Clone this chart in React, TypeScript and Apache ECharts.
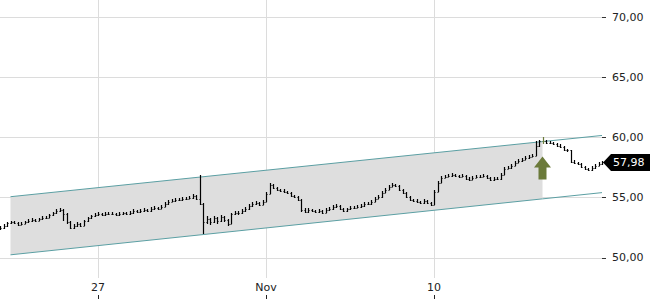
import React, { useEffect, useRef } from 'react';
import * as echarts from 'echarts';

// x-axis tick positions (bar index) and their labels
const xTickIndex = [28, 76, 124];
const xTickLabels = ['27', 'Nov', '10'];
// y-axis labelled values
const yTicks = [50, 55, 60, 65, 70];

// OHLC bars: [open, high, low, close]
const bars: number[][] = [
  [52.42, 52.62, 52.35, 52.50], [52.50, 52.78, 52.42, 52.67], [52.67, 53.00, 52.60, 52.92], [52.92, 53.10, 52.85, 53.00],
  [53.00, 53.08, 52.80, 52.92], [52.92, 52.98, 52.65, 52.75], [52.75, 52.95, 52.70, 52.83], [52.83, 53.10, 52.78, 53.00],
  [53.00, 53.20, 52.92, 53.08], [53.08, 53.28, 53.00, 53.17], [53.17, 53.25, 52.98, 53.08], [53.08, 53.35, 53.02, 53.25],
  [53.25, 53.45, 53.18, 53.33], [53.33, 53.48, 53.20, 53.33], [53.33, 53.68, 53.28, 53.58], [53.58, 53.85, 53.50, 53.75],
  [53.75, 54.02, 53.68, 53.92], [53.92, 54.12, 53.85, 54.00], [54.00, 54.08, 53.10, 53.67], [53.67, 53.70, 52.85, 53.00],
  [53.00, 53.05, 52.38, 52.50], [52.50, 52.80, 52.42, 52.67], [52.67, 52.95, 52.58, 52.83], [52.83, 52.92, 52.55, 52.67],
  [52.67, 53.15, 52.62, 53.08], [53.08, 53.42, 53.00, 53.33], [53.33, 53.60, 53.25, 53.50], [53.50, 53.70, 53.42, 53.58],
  [53.58, 53.78, 53.50, 53.67], [53.67, 53.75, 53.48, 53.58], [53.58, 53.78, 53.50, 53.67], [53.67, 53.80, 53.55, 53.67],
  [53.67, 53.78, 53.52, 53.67], [53.67, 53.75, 53.45, 53.58], [53.58, 53.80, 53.50, 53.67], [53.67, 53.85, 53.58, 53.75],
  [53.75, 53.82, 53.55, 53.67], [53.67, 53.88, 53.60, 53.75], [53.75, 54.02, 53.68, 53.92], [53.92, 54.00, 53.72, 53.83],
  [53.83, 54.05, 53.75, 53.92], [53.92, 54.10, 53.85, 54.00], [54.00, 54.08, 53.80, 53.92], [53.92, 54.20, 53.85, 54.08],
  [54.08, 54.28, 54.00, 54.17], [54.17, 54.25, 53.98, 54.08], [54.08, 54.35, 54.02, 54.25], [54.25, 54.60, 54.20, 54.50],
  [54.50, 54.78, 54.42, 54.67], [54.67, 54.88, 54.60, 54.75], [54.75, 54.95, 54.68, 54.83], [54.83, 54.95, 54.72, 54.83],
  [54.83, 55.02, 54.75, 54.92], [54.92, 55.05, 54.80, 54.92], [54.92, 55.12, 54.85, 55.00], [55.00, 55.28, 54.92, 55.17],
  [55.17, 55.20, 54.80, 54.92], [54.92, 56.92, 54.42, 54.50], [54.50, 54.55, 52.00, 53.00], [53.00, 53.45, 52.85, 53.25],
  [53.25, 53.35, 52.70, 53.00], [53.00, 53.50, 52.90, 53.33], [53.33, 53.42, 52.85, 53.08], [53.08, 53.55, 52.95, 53.42],
  [53.42, 53.50, 52.95, 53.17], [53.17, 53.22, 52.65, 52.83], [52.83, 53.75, 52.80, 53.67], [53.67, 53.88, 53.58, 53.75],
  [53.75, 53.90, 53.60, 53.75], [53.75, 54.02, 53.68, 53.92], [53.92, 54.20, 53.85, 54.08], [54.08, 54.45, 54.00, 54.33],
  [54.33, 54.62, 54.25, 54.50], [54.50, 54.70, 54.40, 54.58], [54.58, 54.68, 54.30, 54.42], [54.42, 54.78, 54.35, 54.67],
  [54.67, 55.45, 54.60, 55.33], [55.33, 56.20, 55.28, 56.08], [56.08, 56.15, 55.72, 55.83], [55.83, 55.92, 55.55, 55.67],
  [55.67, 55.75, 55.45, 55.58], [55.58, 55.68, 55.40, 55.50], [55.50, 55.58, 55.30, 55.42], [55.42, 55.48, 55.05, 55.17],
  [55.17, 55.25, 54.95, 55.08], [55.08, 55.15, 54.72, 54.83], [54.83, 54.90, 53.85, 54.00], [54.00, 54.12, 53.70, 53.83],
  [53.83, 54.10, 53.75, 54.00], [54.00, 54.08, 53.80, 53.92], [53.92, 54.00, 53.72, 53.83], [53.83, 54.05, 53.75, 53.92],
  [53.92, 54.00, 53.65, 53.75], [53.75, 54.10, 53.70, 54.00], [54.00, 54.20, 53.92, 54.08], [54.08, 54.35, 54.00, 54.25],
  [54.25, 54.45, 54.18, 54.33], [54.33, 54.40, 53.98, 54.08], [54.08, 54.15, 53.80, 53.92], [53.92, 54.18, 53.85, 54.08],
  [54.08, 54.28, 54.00, 54.17], [54.17, 54.30, 54.05, 54.17], [54.17, 54.35, 54.10, 54.25], [54.25, 54.45, 54.18, 54.33],
  [54.33, 54.60, 54.25, 54.50], [54.50, 54.62, 54.38, 54.50], [54.50, 54.78, 54.42, 54.67], [54.67, 55.02, 54.60, 54.92],
  [54.92, 55.20, 54.85, 55.08], [55.08, 55.52, 55.00, 55.42], [55.42, 55.78, 55.35, 55.67], [55.67, 56.02, 55.60, 55.92],
  [55.92, 56.20, 55.85, 56.08], [56.08, 56.15, 55.88, 56.00], [56.00, 56.05, 55.55, 55.67], [55.67, 55.72, 55.30, 55.42],
  [55.42, 55.48, 54.98, 55.08], [55.08, 55.15, 54.72, 54.83], [54.83, 54.92, 54.62, 54.75], [54.75, 54.85, 54.55, 54.67],
  [54.67, 54.75, 54.48, 54.58], [54.58, 54.85, 54.50, 54.75], [54.75, 54.80, 54.45, 54.58], [54.58, 54.65, 54.30, 54.42],
  [54.42, 55.60, 54.38, 55.50], [55.50, 56.35, 55.45, 56.25], [56.25, 56.78, 56.18, 56.67], [56.67, 56.88, 56.60, 56.75],
  [56.75, 56.95, 56.68, 56.83], [56.83, 57.02, 56.75, 56.92], [56.92, 57.00, 56.72, 56.83], [56.83, 56.92, 56.62, 56.75],
  [56.75, 56.95, 56.68, 56.83], [56.83, 56.88, 56.48, 56.58], [56.58, 56.68, 56.40, 56.50], [56.50, 56.78, 56.45, 56.67],
  [56.67, 56.85, 56.60, 56.75], [56.75, 56.88, 56.62, 56.75], [56.75, 56.95, 56.70, 56.83], [56.83, 56.90, 56.58, 56.67],
  [56.67, 56.72, 56.40, 56.50], [56.50, 56.68, 56.42, 56.58], [56.58, 56.70, 56.45, 56.58], [56.58, 57.02, 56.50, 56.92],
  [56.92, 57.52, 56.85, 57.42], [57.42, 57.62, 57.35, 57.50], [57.50, 57.78, 57.42, 57.67], [57.67, 58.02, 57.60, 57.92],
  [57.92, 58.20, 57.85, 58.08], [58.08, 58.28, 58.00, 58.17], [58.17, 58.45, 58.10, 58.33], [58.33, 58.52, 58.25, 58.42],
  [58.42, 58.62, 58.35, 58.50], [58.50, 59.75, 58.45, 59.33], [59.33, 59.78, 59.25, 59.67], [59.67, 60.08, 59.42, 59.75],
  [59.75, 59.80, 59.48, 59.58], [59.58, 59.70, 59.45, 59.58], [59.58, 59.65, 59.38, 59.50], [59.50, 59.55, 59.22, 59.33],
  [59.33, 59.42, 59.12, 59.25], [59.25, 59.30, 58.88, 59.00], [59.00, 59.08, 58.80, 58.92], [58.92, 58.98, 57.88, 58.00],
  [58.00, 58.10, 57.80, 57.92], [57.92, 58.00, 57.72, 57.83], [57.83, 57.90, 57.48, 57.58], [57.58, 57.65, 57.30, 57.42],
  [57.42, 57.50, 57.20, 57.33], [57.33, 57.60, 57.25, 57.50], [57.50, 57.78, 57.42, 57.67], [57.67, 57.95, 57.60, 57.83],
  [57.83, 58.08, 57.75, 57.98],
];

// Trend channel: bar index, upper and lower bound values
const channelIndex = [3, 155, 172];
const channelUpper = [55.08, 59.66, 60.17];
const channelLower = [50.25, 54.90, 55.42];

// Buy signal arrow
const signalIndex = 155;
const arrowTop = 58.42;
const arrowNeck = 57.5;
const arrowBase = 56.5;

const lastPrice = 57.98;

const categories = bars.map((_, i) => {
  const k = xTickIndex.indexOf(i);
  return k >= 0 ? xTickLabels[k] : '';
});

const fmt = (v: number) => v.toFixed(2).replace('.', ',');
const isTick = (i: number) => xTickIndex.includes(i);

const FONT = 'DejaVu Sans';
const GRID_C = '#dcdcdc';
const TEAL = '#5b9fa3';
const OLIVE = '#6b7a3a';

export default function App() {
  const ref = useRef<HTMLDivElement>(null);
  useEffect(() => {
    if (!ref.current) return;
    const chart = echarts.init(ref.current, undefined, { renderer: 'svg' });
    const option: any = {
      animation: false,
      backgroundColor: '#fff',
      textStyle: { fontFamily: FONT },
      grid: [
        { left: 0, right: 48, top: -43, bottom: -18, containLabel: false, outerBoundsMode: 'none' },
        { left: 0, right: 48, top: 0, bottom: 22, containLabel: false, outerBoundsMode: 'none' },
      ],
      xAxis: [
        { type: 'category', gridIndex: 0, data: categories, boundaryGap: false, show: false },
        {
          type: 'category', gridIndex: 1, data: categories, boundaryGap: false,
          axisLine: { show: false }, axisTick: { show: false },
          axisLabel: { interval: (i: number) => isTick(i), margin: 4, color: '#222', fontSize: 11, fontFamily: FONT },
          splitLine: { show: true, interval: (i: number) => isTick(i), lineStyle: { color: GRID_C, width: 1 } },
        },
        {
          type: 'category', gridIndex: 1, data: categories, boundaryGap: false, position: 'bottom', offset: 17,
          axisLine: { show: false }, axisLabel: { show: false }, splitLine: { show: false },
          axisTick: { show: true, interval: (i: number) => isTick(i), length: 4, lineStyle: { color: '#222' } },
        },
      ],
      yAxis: [
        {
          type: 'value', gridIndex: 0, position: 'right', min: 45, max: 75, interval: 5,
          axisLine: { show: false },
          axisTick: { show: true, length: 4, lineStyle: { color: '#333' } },
          axisLabel: {
            margin: 10, color: '#222', fontSize: 11, fontFamily: FONT,
            formatter: (v: number) => (yTicks.includes(v) ? fmt(v) : ''),
          },
          splitLine: { show: true, lineStyle: { color: GRID_C, width: 1 } },
        },
        { type: 'value', gridIndex: 1, show: false },
      ],
      series: [
        {
          type: 'custom', xAxisIndex: 0, yAxisIndex: 0, silent: true, z: 1,
          data: [[channelIndex[0], channelLower[0]]],
          renderItem: (_p: any, api: any) => {
            const pts = [
              api.coord([channelIndex[0], channelUpper[0]]),
              api.coord([channelIndex[1], channelUpper[1]]),
              api.coord([channelIndex[1], channelLower[1]]),
              api.coord([channelIndex[0], channelLower[0]]),
            ];
            return { type: 'polygon', shape: { points: pts }, style: { fill: '#dedede' } };
          },
        },
        {
          type: 'line', xAxisIndex: 0, yAxisIndex: 0, silent: true, z: 2, symbol: 'none',
          data: channelIndex.map((x, k) => [x, channelUpper[k]]),
          lineStyle: { color: TEAL, width: 1 },
        },
        {
          type: 'line', xAxisIndex: 0, yAxisIndex: 0, silent: true, z: 2, symbol: 'none',
          data: channelIndex.map((x, k) => [x, channelLower[k]]),
          lineStyle: { color: TEAL, width: 1 },
        },
        {
          type: 'custom', xAxisIndex: 0, yAxisIndex: 0, silent: true, z: 3,
          data: bars.map((b, i) => [i, b[0], b[1], b[2], b[3]]),
          encode: { x: 0, y: [1, 2, 3, 4] },
          renderItem: (_p: any, api: any) => {
            const i = api.value(0);
            const o = api.coord([i, api.value(1)]);
            const h = api.coord([i, api.value(2)]);
            const l = api.coord([i, api.value(3)]);
            const c = api.coord([i, api.value(4)]);
            const x = Math.round(o[0]) + 0.5;
            const color = i === signalIndex ? OLIVE : '#000';
            const yh = Math.round(h[1]);
            let yl = Math.round(l[1]);
            if (yl - yh < 3) yl = yh + 3;
            const yo = Math.round(o[1]) + 0.5;
            const yc = Math.round(c[1]) + 0.5;
            return {
              type: 'group',
              children: [
                { type: 'line', shape: { x1: x, y1: yh, x2: x, y2: yl }, style: { stroke: color, lineWidth: 1.2 } },
                { type: 'line', shape: { x1: x - 1, y1: yo, x2: x, y2: yo }, style: { stroke: color, lineWidth: 1 } },
                { type: 'line', shape: { x1: x, y1: yc, x2: x + 1, y2: yc }, style: { stroke: color, lineWidth: 1 } },
              ],
            };
          },
        },
        {
          type: 'custom', xAxisIndex: 0, yAxisIndex: 0, silent: true, z: 4,
          data: [[signalIndex, arrowTop, arrowNeck, arrowBase]],
          encode: { x: 0, y: [1, 2, 3] },
          renderItem: (_p: any, api: any) => {
            const t = api.coord([api.value(0), api.value(1)]);
            const n = api.coord([api.value(0), api.value(2)]);
            const b = api.coord([api.value(0), api.value(3)]);
            const x = t[0];
            return {
              type: 'polygon',
              shape: {
                points: [
                  [x, t[1]], [x + 8.5, n[1]], [x + 4, n[1]], [x + 4, b[1]],
                  [x - 4, b[1]], [x - 4, n[1]], [x - 8.5, n[1]],
                ],
              },
              style: { fill: OLIVE },
            };
          },
        },
        {
          type: 'custom', xAxisIndex: 0, yAxisIndex: 0, silent: true, z: 5, clip: false,
          data: [[bars.length - 1, lastPrice]],
          encode: { x: 0, y: 1 },
          renderItem: (_p: any, api: any) => {
            const p = api.coord([api.value(0), api.value(1)]);
            const x0 = p[0] + 1;
            const y = Math.round(p[1]) + 0.5;
            return {
              type: 'group',
              children: [
                {
                  type: 'polygon',
                  shape: { points: [[x0, y], [x0 + 8, y - 8.5], [660, y - 8.5], [660, y + 8.5], [x0 + 8, y + 8.5]] },
                  style: { fill: '#000' },
                },
                {
                  type: 'text',
                  style: {
                    text: fmt(api.value(1)), x: x0 + 10, y: y, fill: '#fff',
                    fontSize: 11, fontFamily: FONT, align: 'left', verticalAlign: 'middle',
                  },
                },
              ],
            };
          },
        },
      ],
    };
    chart.setOption(option);
    return () => chart.dispose();
  }, []);
  return <div ref={ref} style={{ position: 'fixed', left: 0, top: 0, width: 650, height: 300 }} />;
}
